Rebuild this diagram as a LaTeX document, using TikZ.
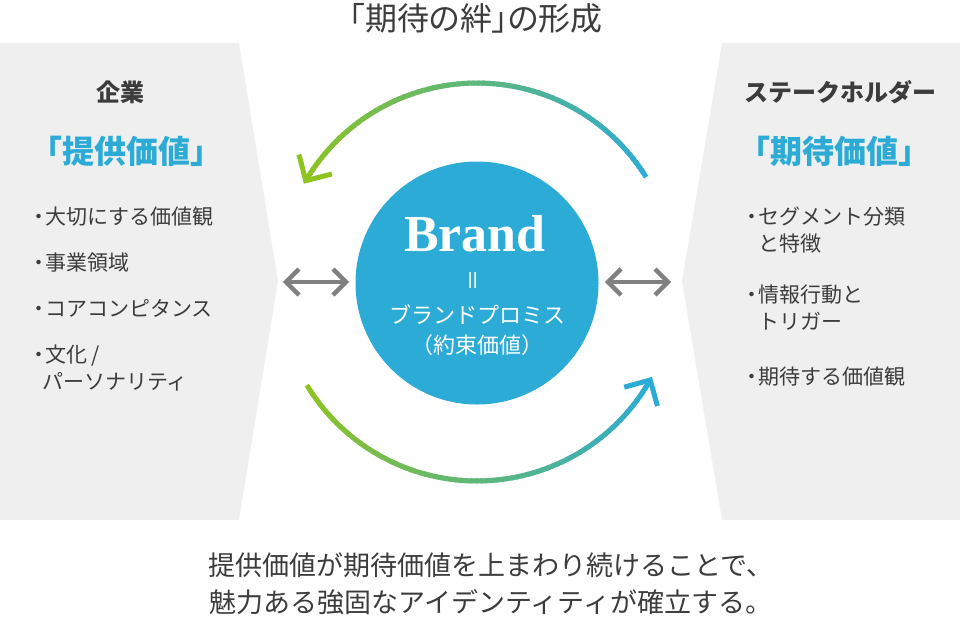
\documentclass[tikz,border=0pt]{standalone}
\usepackage{fontspec}
\setmainfont{Noto Sans CJK JP}
\newfontfamily\jppalt{Noto Sans CJK JP}[RawFeature=+palt]
\newfontfamily\brandfont{Liberation Serif}
\usetikzlibrary{calc}
\definecolor{panel}{HTML}{EFEFEF}
\definecolor{bblue}{HTML}{2CABD6}
\definecolor{bgreen}{HTML}{8FC31F}
\definecolor{txt}{HTML}{3C3C3C}
\definecolor{arrowgray}{HTML}{808080}
\newcommand{\bul}{\makebox[12pt][c]{・}}
\newcommand{\bulsp}{\hspace*{12pt}}
\tikzset{
  panelfill/.style={fill=panel},
  titletext/.style={text=txt, inner sep=0, font=\jppalt\fontsize{32}{38}\selectfont},
  headtext/.style={text=txt, inner sep=0, font=\fontsize{24}{30}\selectfont\bfseries},
  valtext/.style={text=bblue, inner sep=0, font=\fontsize{32}{38}\selectfont\bfseries},
  itemtext/.style={text=txt, inner sep=0, anchor=west, align=left, font=\fontsize{21}{27}\selectfont},
  bottomtext/.style={text=txt, inner sep=0, align=center, font=\fontsize{27}{37}\selectfont},
  grayarrow/.style={draw=arrowgray, line width=4.5, line join=miter},
  arcline/.style={line width=5, line cap=butt},
  archead/.style={line width=5, line join=miter, line cap=butt},
}
\begin{document}
\begin{tikzpicture}[x=1pt,y=-1pt]
\useasboundingbox (0,0) rectangle (960,622);
% panels
\fill[panelfill] (0,43) -- (239,43) -- (278,281) -- (239,520) -- (0,520) -- cycle;
\fill[panelfill] (960,43) -- (722,43) -- (682,281) -- (722,520) -- (960,520) -- cycle;
% title
\node[titletext] (title) at (476,18) {「期待の絆」の形成};
% left panel
\node[headtext] (corp) at (120,92) {企業};
\node[valtext] (corpval) at (126,151) {「提供価値」};
\node[itemtext] (l1) at (33,217) {\bul 大切にする価値観};
\node[itemtext] (l2) at (33,263) {\bul 事業領域};
\node[itemtext] (l3) at (33,308) {\bul コアコンピタンス};
\node[itemtext] (l4) at (33,368) {\bul 文化 /\\\hspace*{9pt}パーソナリティ};
% right panel
\node[headtext] (stake) at (840,92) {ステークホルダー};
\node[valtext] (stakeval) at (834,151) {「期待価値」};
\node[itemtext] (r1) at (746,230) {\bul セグメント分類\\\bulsp と特徴};
\node[itemtext] (r2) at (746,308) {\bul 情報行動と\\\bulsp トリガー};
\node[itemtext] (r3) at (746,377) {\bul 期待する価値観};
% brand circle
\node[circle, fill=bblue, minimum size=243, inner sep=0] (brand) at (477,283) {};
\node[text=white, inner sep=0, font=\brandfont\bfseries\fontsize{52}{52}\selectfont] (brandword) at (475,234) {Brand};
\node[text=white, inner sep=0, rotate=90, font=\fontsize{22}{22}\selectfont] (eq) at (476,280) {＝};
\node[text=white, inner sep=0, align=center, font=\fontsize{22}{30}\selectfont] (promise) at (477,330) {ブランドプロミス\\（約束価値）};
% gray double arrows
\coordinate (la) at (286,282);
\coordinate (lb) at (346,282);
\coordinate (ra) at (608,282);
\coordinate (rb) at (668,282);
\draw[grayarrow] (la) -- (lb);
\draw[grayarrow] ($(la)+(13,-13)$) -- (la) -- ($(la)+(13,13)$);
\draw[grayarrow] ($(lb)+(-13,-13)$) -- (lb) -- ($(lb)+(-13,13)$);
\draw[grayarrow] (ra) -- (rb);
\draw[grayarrow] ($(ra)+(13,-13)$) -- (ra) -- ($(ra)+(13,13)$);
\draw[grayarrow] ($(rb)+(-13,-13)$) -- (rb) -- ($(rb)+(-13,13)$);
% top arc (blue at right -> green at left)
\foreach \i in {0,...,79} {
  \pgfmathsetmacro\aa{31.8+117.6*\i/80}
  \pgfmathsetmacro\bb{min(149.4,31.8+117.6*(\i+1.7)/80)}
  \pgfmathtruncatemacro\pp{100*\i/79}
  \draw[arcline, draw=bgreen!\pp!bblue] ({477+199*cos(\aa)},{282-199*sin(\aa)}) -- ({477+199*cos(\bb)},{282-199*sin(\bb)});
}
\coordinate (ttip) at ({477+199*cos(149.4)},{282-199*sin(149.4)});
\draw[archead, draw=bgreen] ($(ttip)+({27*cos(104.4)},{-27*sin(104.4)})$) -- (ttip) -- ($(ttip)+({27*cos(14.4)},{-27*sin(14.4)})$);
% bottom arc (green at left -> blue at right)
\foreach \i in {0,...,79} {
  \pgfmathsetmacro\aa{-148.8+119.3*\i/80}
  \pgfmathsetmacro\bb{min(-29.5,-148.8+119.3*(\i+1.7)/80)}
  \pgfmathtruncatemacro\pp{100-100*\i/79}
  \draw[arcline, draw=bgreen!\pp!bblue] ({477+199*cos(\aa)},{282-199*sin(\aa)}) -- ({477+199*cos(\bb)},{282-199*sin(\bb)});
}
\coordinate (btip) at ({477+199*cos(-29.5)},{282-199*sin(-29.5)});
\draw[archead, draw=bblue] ($(btip)+({27*cos(-74.5)},{-27*sin(-74.5)})$) -- (btip) -- ($(btip)+({27*cos(-164.5)},{-27*sin(-164.5)})$);
% bottom text
\node[bottomtext] (concl) at (491,584) {提供価値が期待価値を上まわり続けることで、\\魅力ある強固なアイデンティティが確立する。};
\end{tikzpicture}
\end{document}
